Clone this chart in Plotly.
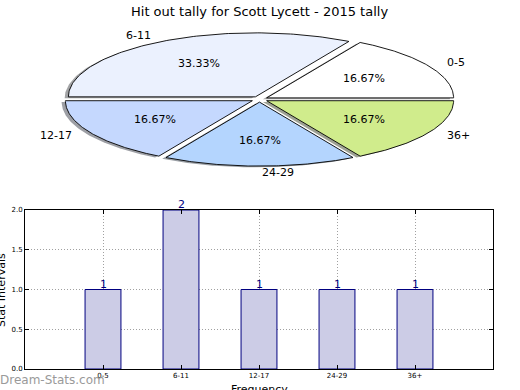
import numpy as np
import plotly.graph_objects as go

# ---------------- data ----------------
title_text = "Hit out tally for Scott Lycett - 2015 tally"
categories = ["0-5", "6-11", "12-17", "24-29", "36+"]
counts = [1, 2, 1, 1, 1]
pie_colors = ["#FFFFFF", "#EBF1FE", "#C5D8FE", "#B4D5FE", "#D0EC8C"]
bar_color = "#CCCCE6"
bar_edge = "#000080"
y_ticks = [0.0, 0.5, 1.0, 1.5, 2.0]

# ---------------- layout geometry (pixels) ----------------
W, H = 520, 390
FONT = "DejaVu Sans"
pie_cx, pie_cy = 259.5, 99.3     # pixel centre of pie
pie_rx, pie_ry = 187.0, 64.0     # pixel radii
pie_top, pie_bot = 20, 180       # pixel extent of pie axes
explode = 0.044
shadow_off = 0.02

def fx(px):
    return px / W

def fy(py):
    return 1 - py / H

fig = go.Figure()

# ---------------- pie (drawn as wedges) ----------------
total = float(sum(counts))
fracs = [c / total for c in counts]
starts = np.cumsum([0] + fracs[:-1])


def wedge(t0, t1, ox, oy):
    th = np.linspace(t0, t1, 120)
    xs = np.concatenate([[ox], ox + np.cos(th), [ox]])
    ys = np.concatenate([[oy], oy + np.sin(th), [oy]])
    return xs, ys


def darken(hexc, f=0.3):
    r, g, b = int(hexc[1:3], 16), int(hexc[3:5], 16), int(hexc[5:7], 16)
    return f"rgba({int(r*f)},{int(g*f)},{int(b*f)},0.5)"

wedges = []
for i, (s, f) in enumerate(zip(starts, fracs)):
    t0 = 2 * np.pi * s
    t1 = 2 * np.pi * (s + f)
    tm = (t0 + t1) / 2
    ox, oy = explode * np.cos(tm), explode * np.sin(tm)
    wedges.append((t0, t1, tm, ox, oy))

# shadows first
for i, (t0, t1, tm, ox, oy) in enumerate(wedges):
    xs, ys = wedge(t0, t1, ox - shadow_off, oy - shadow_off)
    fig.add_trace(go.Scatter(x=xs, y=ys, xaxis="x2", yaxis="y2", mode="lines",
                             fill="toself", fillcolor=darken(pie_colors[i]),
                             line=dict(width=0), hoverinfo="skip", showlegend=False))

for i, (t0, t1, tm, ox, oy) in enumerate(wedges):
    xs, ys = wedge(t0, t1, ox, oy)
    fig.add_trace(go.Scatter(x=xs, y=ys, xaxis="x2", yaxis="y2", mode="lines",
                             fill="toself", fillcolor=pie_colors[i],
                             line=dict(color="black", width=0.9), hoverinfo="skip",
                             showlegend=False))

annotations = []
for i, (t0, t1, tm, ox, oy) in enumerate(wedges):
    lx = ox + 1.1 * np.cos(tm)
    ly = oy + 1.1 * np.sin(tm)
    anchor = "left" if np.cos(tm) > -1e-9 else "right"
    annotations.append(dict(x=lx, y=ly, xref="x2", yref="y2", text=categories[i],
                            showarrow=False, xanchor=anchor, yanchor="middle",
                            font=dict(family=FONT, size=11, color="black")))
    px = ox + 0.6 * np.cos(tm)
    py = oy + 0.6 * np.sin(tm)
    annotations.append(dict(x=px, y=py, xref="x2", yref="y2",
                            text=f"{100*fracs[i]:.2f}%", showarrow=False,
                            xanchor="center", yanchor="middle",
                            font=dict(family=FONT, size=11, color="black")))

# ---------------- bar chart ----------------
fig.add_trace(go.Bar(x=categories, y=counts, width=0.46,
                     marker=dict(color=bar_color, line=dict(color=bar_edge, width=1)),
                     showlegend=False, hoverinfo="skip"))

for cat, c in zip(categories, counts):
    annotations.append(dict(x=cat, y=c, xref="x", yref="y", text=str(c),
                            showarrow=False, xanchor="center", yanchor="bottom",
                            yshift=-3,
                            font=dict(family=FONT, size=11, color=bar_edge)))

annotations += [
    dict(x=fx(259.5), y=fy(381), xref="paper", yref="paper", text="Frequency",
         showarrow=False, xanchor="center", yanchor="top",
         font=dict(family=FONT, size=11, color="black")),
    dict(x=fx(1), y=fy(290), xref="paper", yref="paper", text="Stat Intervals",
         showarrow=False, xanchor="center", yanchor="middle", textangle=-90,
         font=dict(family=FONT, size=11, color="black")),
    dict(x=fx(-2), y=fy(389), xref="paper", yref="paper", text="Dream-Stats.com",
         showarrow=False, xanchor="left", yanchor="bottom",
         font=dict(family=FONT, size=12, color="#9a9a9a")),
    dict(x=fx(259.5), y=fy(11), xref="paper", yref="paper", text=title_text,
         showarrow=False, xanchor="center", yanchor="middle",
         font=dict(family=FONT, size=13, color="black")),
]

grid_dash = "1px,2px"
fig.update_layout(
    width=W, height=H,
    margin=dict(l=0, r=0, t=0, b=0, autoexpand=False),
    paper_bgcolor="white", plot_bgcolor="white",
    font=dict(family=FONT, color="black"),
    showlegend=False,
    annotations=annotations,
    xaxis=dict(domain=[fx(25), fx(493)], type="category", range=[-1, 5],
               showline=True, linecolor="black", linewidth=1, mirror="allticks",
               ticks="inside", ticklen=4, tickcolor="black",
               showgrid=True, gridcolor="#a0a0a0", griddash=grid_dash, gridwidth=1,
               tickfont=dict(family=FONT, size=7, color="black"), zeroline=False),
    yaxis=dict(domain=[fy(369), fy(210)], range=[0, 2], tickvals=y_ticks,
               tickformat=".1f",
               showline=True, linecolor="black", linewidth=1, mirror="allticks",
               ticks="inside", ticklen=4, tickcolor="black",
               showgrid=True, gridcolor="#a0a0a0", griddash=grid_dash, gridwidth=1,
               tickfont=dict(family=FONT, size=7, color="black"), zeroline=False),
    xaxis2=dict(domain=[0, 1], anchor="y2",
                range=[-pie_cx / pie_rx, (W - pie_cx) / pie_rx],
                visible=False, fixedrange=True),
    yaxis2=dict(domain=[fy(pie_bot), fy(pie_top)], anchor="x2",
                range=[-(pie_bot - pie_cy) / pie_ry, (pie_cy - pie_top) / pie_ry],
                visible=False, fixedrange=True),
)

fig.write_html("out.html", config={"displayModeBar": False},
               post_script="document.body.style.margin='0';document.body.style.overflow='hidden';")
